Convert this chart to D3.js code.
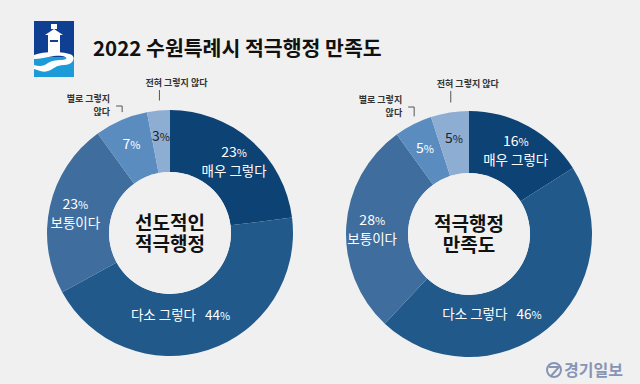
<!DOCTYPE html>
<html>
<head>
<meta charset="utf-8">
<script src="https://cdn.jsdelivr.net/npm/d3@7"></script>
<style>
  html, body { margin: 0; padding: 0; background: #f0f0f0; }
  svg { display: block; font-family: "Noto Sans CJK KR", "Noto Sans", sans-serif; }
</style>
</head>
<body>
<div id="chart"></div>
<script>
const categories = ['매우 그렇다', '다소 그렇다', '보통이다', '별로 그렇지 않다', '전혀 그렇지 않다'];
const leftValues = [23, 44, 23, 7, 3];
const rightValues = [16, 46, 28, 5, 5];
const leftCenter = ['선도적인', '적극행정'];
const rightCenter = ['적극행정', '만족도'];
const colors = ['#0d4275', '#20598a', '#3f6e9e', '#5b8cc0', '#8eadd2'];

const width = 640;
const height = 384;

const svg = d3.select('#chart')
  .append('svg')
  .attr('width', width)
  .attr('height', height);

svg.append('rect').attr('width', width).attr('height', height).attr('fill', '#f0f0f0');

// logo
const logo = svg.append('g').attr('transform', 'translate(34,21)');
logo.append('rect').attr('width', 40).attr('height', 56).attr('fill', '#0f3f92');
logo.append('rect').attr('y', 36).attr('width', 40).attr('height', 20).attr('fill', '#1d9ad8');
logo.append('path')
  .attr('d', 'M0,34 C10,30 30,30 38,34 C42,38 38,44 30,44 C22,44 20,48 14,50 C8,52 4,49 0,48 L0,44 C6,46 10,45 14,42 C20,38 28,40 32,38 C34,36 28,34 20,35 C12,36 6,38 0,38 Z')
  .attr('fill', '#ffffff');
logo.append('rect').attr('x', 14).attr('y', 13).attr('width', 12).attr('height', 20).attr('fill', '#ffffff');
logo.append('path').attr('d', 'M11,14 L20,8 L29,14 Z').attr('fill', '#ffffff');
logo.append('rect').attr('x', 17).attr('y', 3).attr('width', 6).attr('height', 5).attr('fill', '#ffffff');
logo.append('rect').attr('x', 16).attr('y', 19).attr('width', 8).attr('height', 2).attr('fill', '#0f3f92');

svg.append('text')
  .attr('x', 93).attr('y', 56)
  .attr('font-size', 20.5).attr('font-weight', 700).attr('fill', '#111')
  .text('2022 수원특례시 적극행정 만족도');

const outerR = 123;
const innerR = 61;
const labelR = 97;

function donut(cx, cy, values, centerLines) {
  const g = svg.append('g').attr('transform', `translate(${cx},${cy})`);
  const pie = d3.pie().sort(null).value(d => d)(values);
  const arc = d3.arc().innerRadius(innerR).outerRadius(outerR);

  g.selectAll('path.slice')
    .data(pie)
    .join('path')
    .attr('class', 'slice')
    .attr('d', arc)
    .attr('fill', (d, i) => colors[i]);

  g.append('circle').attr('r', innerR).attr('fill', '#f0f0f0');

  pie.forEach((d, i) => {
    const mid = (d.startAngle + d.endAngle) / 2;
    const pctColor = i === 4 ? '#222' : '#fff';
    if (i === 1) {
      const a = mid + (Math.PI - mid) * 0.6;
      const [x, y] = d3.pointRadial(a, 84);
      const t = g.append('text')
        .attr('x', x).attr('y', y + 4)
        .attr('text-anchor', 'middle')
        .attr('fill', '#fff').attr('font-size', 13.5);
      t.append('tspan').text(categories[i] + '\u00a0\u00a0\u00a0' + values[i]);
      t.append('tspan').attr('font-size', 11).text('%');
    } else {
      const [x, y] = d3.pointRadial(mid, labelR);
      const twoLine = i === 0 || i === 2;
      const t = g.append('text')
        .attr('x', x).attr('y', twoLine ? y - 3 : y + 5)
        .attr('text-anchor', 'middle')
        .attr('fill', pctColor).attr('font-size', 14);
      t.append('tspan').text(values[i]);
      t.append('tspan').attr('font-size', 11).text('%');
      if (twoLine) {
        g.append('text')
          .attr('x', x).attr('y', y + 16)
          .attr('text-anchor', 'middle')
          .attr('fill', '#fff').attr('font-size', 13.5)
          .text(categories[i]);
      }
    }
  });

  // outside labels for small slices
  const [x4, y4] = d3.pointRadial((pie[4].startAngle + pie[4].endAngle) / 2, outerR);
  g.append('path')
    .attr('d', `M${x4 + 1},${y4 - 10}V${-outerR - 20}`)
    .attr('stroke', '#555').attr('stroke-width', 1).attr('fill', 'none');
  g.append('text')
    .attr('x', x4 + 18).attr('y', -outerR - 24)
    .attr('text-anchor', 'middle')
    .attr('font-size', 9).attr('font-weight', 700).attr('fill', '#333')
    .text(categories[4]);

  const [x3, y3] = d3.pointRadial((pie[3].startAngle + pie[3].endAngle) / 2, outerR);
  g.append('path')
    .attr('d', `M${x3 + 1},${y3 - 8}V${-outerR - 4}H${x3 - 5}`)
    .attr('stroke', '#555').attr('stroke-width', 1).attr('fill', 'none');
  const lbl = g.append('text')
    .attr('text-anchor', 'end')
    .attr('font-size', 9).attr('font-weight', 700).attr('fill', '#333');
  lbl.append('tspan').attr('x', x3 - 11).attr('y', -outerR - 8).text('별로 그렇지');
  lbl.append('tspan').attr('x', x3 - 11).attr('y', -outerR + 5).text('않다');

  const center = g.append('g')
    .attr('text-anchor', 'middle')
    .attr('font-size', 19).attr('font-weight', 700).attr('fill', '#111');
  centerLines.forEach((line, i) => {
    center.append('text')
      .attr('x', 0)
      .attr('y', -3 + i * 21)
      .text(line);
  });
}

donut(170, 233, leftValues, leftCenter);
donut(469, 234, rightValues, rightCenter);

// publisher mark
const pub = svg.append('g').attr('transform', 'translate(548,370)');
pub.append('circle').attr('cx', 6).attr('cy', 0).attr('r', 7)
  .attr('fill', 'none').attr('stroke', '#8795b5').attr('stroke-width', 2);
pub.append('path').attr('d', 'M1,-3 L11,-3 L3,6').attr('fill', 'none').attr('stroke', '#8795b5').attr('stroke-width', 2);
pub.append('text')
  .attr('x', 16).attr('y', 6)
  .attr('font-size', 16).attr('font-weight', 700).attr('fill', '#8795b5')
  .text('경기일보');
</script>
</body>
</html>
